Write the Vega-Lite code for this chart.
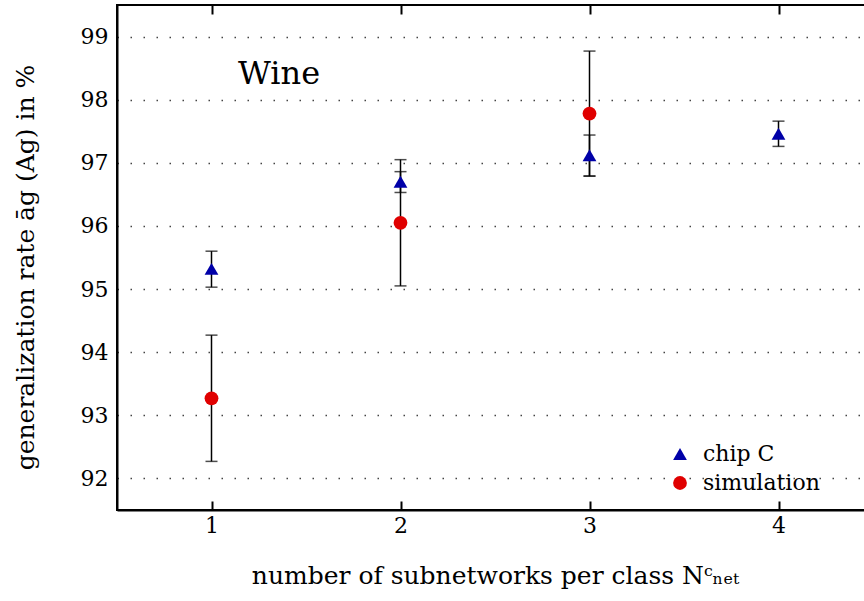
{
  "$schema": "https://vega.github.io/schema/vega-lite/v6.json",
  "width": 756,
  "height": 505,
  "autosize": "none",
  "padding": {"left": 117, "top": 5, "right": 0, "bottom": 91},
  "background": "white",
  "config": {
    "font": "DejaVu Serif",
    "view": {"stroke": "black", "strokeWidth": 2},
    "axis": {"labelFont": "DejaVu Serif", "titleFont": "DejaVu Serif", "labelColor": "black", "titleColor": "black", "titleFontWeight": "normal", "domainColor": "black", "domainWidth": 2}
  },
  "datasets": {
    "pts": [
      {"series": "chip C", "n": 1, "mean": 95.32, "lo": 95.03, "hi": 95.60},
      {"series": "chip C", "n": 2, "mean": 96.70, "lo": 96.53, "hi": 96.86},
      {"series": "chip C", "n": 3, "mean": 97.12, "lo": 96.79, "hi": 97.44},
      {"series": "chip C", "n": 4, "mean": 97.46, "lo": 97.26, "hi": 97.66},
      {"series": "simulation", "n": 1, "mean": 93.27, "lo": 92.27, "hi": 94.27},
      {"series": "simulation", "n": 2, "mean": 96.05, "lo": 95.05, "hi": 97.05},
      {"series": "simulation", "n": 3, "mean": 97.78, "lo": 96.79, "hi": 98.77}
    ],
    "label": [{"n": 1.14, "mean": 98.4, "text": "Wine"}]
  },
  "resolve": {"axis": {"x": "independent", "y": "independent"}},
  "layer": [
    {
      "data": {"name": "pts"},
      "mark": {"type": "rule", "color": "black", "strokeWidth": 1.5},
      "encoding": {
        "x": {"field": "n", "type": "quantitative", "scale": {"domain": [0.5, 4.5], "nice": false},
          "axis": {"orient": "top", "values": [1, 2, 3, 4], "labels": false, "title": null, "tickColor": "black", "tickSize": -9, "tickWidth": 2, "grid": false, "domain": false}},
        "y": {"field": "lo", "type": "quantitative", "scale": {"domain": [91.5, 99.5], "nice": false, "zero": false},
          "axis": {"values": [92, 93, 94, 95, 96, 97, 98, 99], "format": "d", "ticks": false, "labelFontSize": 22, "labelPadding": 9,
            "grid": true, "gridColor": "#444", "gridDash": [1.5, 11.5], "gridWidth": 1.5,
            "title": "generalization rate āg (Ag) in %", "titleFontSize": 25, "titlePadding": 42, "titleY": 262}},
        "y2": {"field": "hi"}
      }
    },
    {
      "data": {"name": "pts"},
      "mark": {"type": "tick", "color": "black", "thickness": 1.5, "size": 12, "orient": "horizontal"},
      "encoding": {
        "x": {"field": "n", "type": "quantitative", "axis": null},
        "y": {"field": "lo", "type": "quantitative", "axis": null}
      }
    },
    {
      "data": {"name": "pts"},
      "mark": {"type": "tick", "color": "black", "thickness": 1.5, "size": 12, "orient": "horizontal"},
      "encoding": {
        "x": {"field": "n", "type": "quantitative", "axis": null},
        "y": {"field": "hi", "type": "quantitative", "axis": null}
      }
    },
    {
      "data": {"name": "pts"},
      "mark": {"type": "point", "filled": true, "opacity": 1, "size": 190},
      "encoding": {
        "x": {"field": "n", "type": "quantitative",
          "axis": {"orient": "bottom", "values": [1, 2, 3, 4], "format": "d", "tickColor": "black", "tickSize": -9, "tickWidth": 2, "domain": true, "labelFontSize": 22, "labelPadding": 14, "grid": false,
            "title": "number of subnetworks per class Nᶜₙₑₜ", "titleFontSize": 25, "titlePadding": 27}},
        "y": {"field": "mean", "type": "quantitative", "axis": null},
        "color": {"field": "series", "type": "nominal", "scale": {"domain": ["chip C", "simulation"], "range": ["#0000A8", "#E00000"]},
          "legend": {"title": null, "orient": "none", "legendX": 552, "legendY": 438, "labelFontSize": 22, "labelFont": "DejaVu Serif", "labelColor": "black", "symbolSize": 190, "rowPadding": 7, "labelOffset": 12}},
        "shape": {"field": "series", "type": "nominal", "scale": {"domain": ["chip C", "simulation"], "range": ["triangle-up", "circle"]}}
      }
    },
    {
      "data": {"name": "label"},
      "mark": {"type": "text", "align": "left", "baseline": "middle", "fontSize": 32, "color": "black", "font": "DejaVu Serif"},
      "encoding": {
        "x": {"field": "n", "type": "quantitative", "axis": null},
        "y": {"field": "mean", "type": "quantitative", "axis": null},
        "text": {"field": "text"}
      }
    }
  ]
}
